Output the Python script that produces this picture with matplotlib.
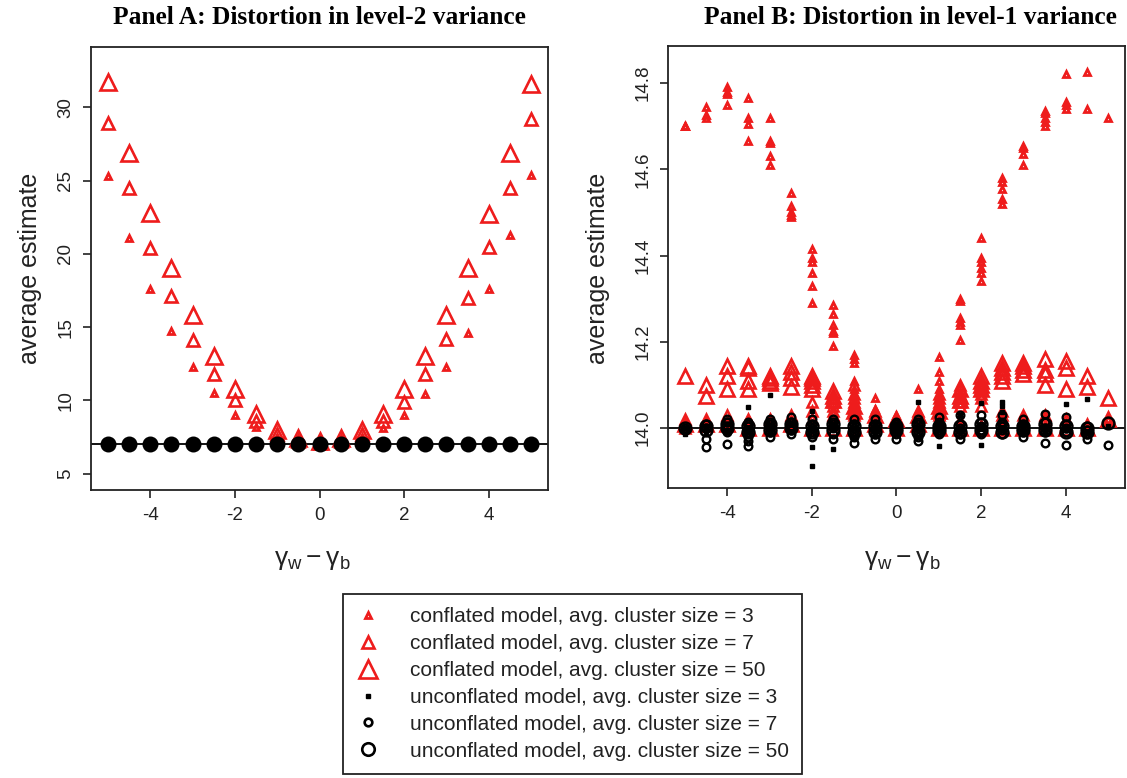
import matplotlib
matplotlib.use("Agg")
import matplotlib.pyplot as plt
from matplotlib.lines import Line2D

# ---- data -------------------------------------------------------------
gap = [-5, -4.5, -4, -3.5, -3, -2.5, -2, -1.5, -1, -0.5, 0,
       0.5, 1, 1.5, 2, 2.5, 3, 3.5, 4, 4.5, 5]

# Panel A: distortion in level-2 variance (one estimate per gap)
a_conf3 = [25.3, 21.1, 17.6, 14.7, 12.3, 10.5, 9.0, 8.2, 7.5, 7.0, 7.0,
           7.0, 7.5, 8.1, 9.0, 10.4, 12.3, 14.6, 17.6, 21.3, 25.4]
a_conf7 = [28.9, 24.5, 20.4, 17.1, 14.1, 11.8, 10.0, 8.6, 7.7, 7.2, 7.1,
           7.2, 7.7, 8.6, 9.9, 11.8, 14.2, 17.0, 20.5, 24.5, 29.2]
a_conf50 = [31.7, 26.9, 22.8, 19.0, 15.8, 13.0, 10.8, 9.1, 8.0, 7.4, 7.2,
            7.4, 8.0, 9.1, 10.8, 13.0, 15.8, 19.0, 22.7, 26.9, 31.6]
a_unconf3 = [7.0] * 21
a_unconf7 = [7.0] * 21
a_unconf50 = [7.0] * 21
a_true = 7.0

# Panel B: distortion in level-1 variance (several conditions per gap)
b_conf3 = [
    [14.70, 14.70, 14.70, 14.01],
    [14.745, 14.725, 14.72, 14.01],
    [14.79, 14.78, 14.775, 14.75, 14.01],
    [14.765, 14.72, 14.705, 14.665, 14.02, 14.00],
    [14.72, 14.665, 14.66, 14.63, 14.61, 14.02, 14.00],
    [14.545, 14.515, 14.50, 14.495, 14.49, 14.02, 14.00],
    [14.415, 14.395, 14.385, 14.36, 14.33, 14.29, 14.01],
    [14.285, 14.265, 14.24, 14.225, 14.22, 14.19, 14.02],
    [14.17, 14.16, 14.15, 14.11, 14.09, 14.08, 14.02],
    [14.07, 14.045, 14.03, 14.00],
    [14.03, 14.02, 14.00],
    [14.09, 14.04, 14.02, 14.00],
    [14.165, 14.13, 14.11, 14.09, 14.07, 14.02],
    [14.30, 14.295, 14.255, 14.245, 14.24, 14.205, 14.02],
    [14.44, 14.395, 14.385, 14.37, 14.36, 14.34, 14.01],
    [14.58, 14.57, 14.555, 14.53, 14.52, 14.01],
    [14.655, 14.65, 14.635, 14.61, 14.01],
    [14.735, 14.73, 14.72, 14.71, 14.70, 14.01],
    [14.82, 14.755, 14.75, 14.74, 14.00],
    [14.825, 14.74, 14.00],
    [14.72, 14.02],
]
b_conf7 = [
    [14.02, 14.00],
    [14.02, 14.005],
    [14.03, 14.01],
    [14.02, 14.00],
    [14.02, 14.01],
    [14.03, 14.01],
    [14.06, 14.04, 14.02],
    [14.07, 14.06, 14.05, 14.04, 14.03],
    [14.10, 14.08, 14.07, 14.06, 14.05, 14.04, 14.03],
    [14.04, 14.02, 14.01],
    [14.02, 14.01, 14.00],
    [14.04, 14.03, 14.02],
    [14.08, 14.07, 14.06, 14.05, 14.04, 14.03],
    [14.10, 14.09, 14.08, 14.07, 14.06, 14.05],
    [14.10, 14.09, 14.08, 14.07, 14.05],
    [14.04, 14.03, 14.02],
    [14.03, 14.02, 14.01],
    [14.03, 14.02],
    [14.02, 14.01],
    [14.01, 14.00],
    [14.02],
]
b_conf50 = [
    [14.12, 14.01],
    [14.10, 14.075, 14.01],
    [14.145, 14.12, 14.09, 14.01],
    [14.145, 14.14, 14.11, 14.09, 14.00],
    [14.12, 14.115, 14.11, 14.105, 14.00],
    [14.145, 14.13, 14.115, 14.095, 14.01],
    [14.12, 14.115, 14.11, 14.10, 14.09, 14.00],
    [14.085, 14.075, 14.065, 14.00],
    [14.05, 14.04, 14.00],
    [14.03, 14.01],
    [14.02, 14.00],
    [14.03, 14.01],
    [14.05, 14.04, 14.00],
    [14.09, 14.075, 14.065, 14.00],
    [14.12, 14.11, 14.10, 14.09, 14.00],
    [14.15, 14.14, 14.13, 14.12, 14.11, 14.00],
    [14.15, 14.145, 14.135, 14.125, 14.00],
    [14.16, 14.135, 14.125, 14.10, 14.00],
    [14.155, 14.14, 14.09, 14.00],
    [14.12, 14.095, 14.00],
    [14.07, 14.02],
]
b_unconf3 = [
    [13.985, 14.00],
    [14.00, 13.99],
    [14.01, 13.99],
    [14.049, 13.99, 14.00],
    [14.076, 14.00, 13.985],
    [14.01, 13.99],
    [14.04, 13.956, 13.912, 14.00],
    [13.952, 14.00, 14.01],
    [13.98, 14.00, 14.015],
    [13.985, 14.00, 14.01],
    [13.99, 14.00, 14.01],
    [14.06, 13.98, 14.00],
    [13.958, 14.00, 14.01],
    [14.03, 13.99, 14.00],
    [14.058, 13.96, 14.00],
    [14.06, 14.05, 14.037, 14.00],
    [13.99, 14.00, 14.01],
    [14.00, 13.99],
    [14.056, 14.00],
    [14.067, 13.99],
    [14.005],
]
b_unconf7 = [
    [14.00, 13.995],
    [13.956, 13.975, 14.00, 14.01],
    [13.962, 13.99, 14.00, 14.015, 14.02],
    [13.958, 13.97, 13.98, 13.99, 14.005, 14.015],
    [13.98, 13.99, 14.00, 14.01, 14.02],
    [13.985, 13.995, 14.005, 14.015, 14.025],
    [13.98, 13.99, 14.00, 14.01, 14.02],
    [13.975, 13.985, 14.00, 14.01, 14.02],
    [13.965, 13.98, 13.99, 14.00, 14.01, 14.02],
    [13.975, 13.985, 14.00, 14.01, 14.02],
    [13.975, 13.985, 13.995, 14.005, 14.015],
    [13.97, 13.98, 13.99, 14.00, 14.01, 14.02],
    [13.985, 13.995, 14.005, 14.015, 14.025],
    [13.975, 13.985, 14.00, 14.01, 14.03],
    [13.985, 13.995, 14.005, 14.015, 14.03],
    [13.985, 13.995, 14.005, 14.015, 14.03],
    [13.98, 13.99, 14.00, 14.01, 14.02],
    [13.965, 13.99, 14.00, 14.015, 14.032],
    [13.96, 13.99, 14.00, 14.01, 14.025],
    [13.975, 13.985, 13.995, 14.005],
    [13.96],
]
b_unconf50 = [
    [14.00], [14.005, 13.995], [14.01, 14.00], [13.99, 14.005],
    [13.995, 14.01], [14.00, 14.01], [13.99, 14.005], [13.995, 14.01],
    [13.99, 14.005], [13.99, 14.005], [13.995, 14.005], [13.99, 14.01],
    [13.995, 14.005], [13.99, 14.005], [13.995, 14.01], [13.99, 14.005],
    [13.995, 14.005], [13.995, 14.01], [13.99, 14.005], [13.99, 14.00],
    [14.012],
]
b_true = 14.0

labels = ["conflated model, avg. cluster size = 3",
          "conflated model, avg. cluster size = 7",
          "conflated model, avg. cluster size = 50",
          "unconflated model, avg. cluster size = 3",
          "unconflated model, avg. cluster size = 7",
          "unconflated model, avg. cluster size = 50"]

RED = "#ee1c1c"
INK = "#222222"
SANS = "Liberation Sans"

plt.rcParams["mathtext.fontset"] = "custom"
plt.rcParams["mathtext.rm"] = SANS
plt.rcParams["mathtext.it"] = SANS + ":italic"


def flatten(groups):
    xs, ys = [], []
    for g, vals in zip(gap, groups):
        for v in vals:
            xs.append(g)
            ys.append(v)
    return xs, ys


def style_axes(ax, yticks, ylim):
    ax.set_xlim(-5.4, 5.4)
    ax.set_ylim(*ylim)
    ax.set_xticks([-4, -2, 0, 2, 4])
    ax.set_xticklabels(["-4", "-2", "0", "2", "4"])
    ax.set_yticks(yticks)
    ax.set_yticklabels([f"{t:g}" if ylim[1] > 20 else f"{t:.1f}" for t in yticks])
    ax.tick_params(direction="out", length=6, width=1.2, color=INK,
                   labelsize=13.5, labelcolor=INK, pad=6)
    ax.tick_params(axis="y", labelrotation=90)
    for lbl in ax.get_yticklabels():
        lbl.set_va("center")
        lbl.set_family(SANS)
    for lbl in ax.get_xticklabels():
        lbl.set_family(SANS)
    for s in ax.spines.values():
        s.set_linewidth(1.3)
        s.set_color(INK)


fig = plt.figure(figsize=(11.27, 7.78), dpi=100)
axA = fig.add_axes([0.0807, 0.3702, 0.4056, 0.5694])
axB = fig.add_axes([0.5927, 0.3728, 0.4055, 0.5681])

# ---- Panel A ----------------------------------------------------------
axA.axhline(a_true, color="black", lw=1.3, zorder=1)
axA.plot(gap, a_conf3, ls="none", marker="^", ms=5, mfc="none", mec=RED, mew=2.0)
axA.plot(gap, a_conf7, ls="none", marker="^", ms=8, mfc="none", mec=RED, mew=1.9)
axA.plot(gap, a_conf50, ls="none", marker="^", ms=11.5, mfc="none", mec=RED, mew=1.9)
axA.plot(gap, a_unconf50, ls="none", marker="o", ms=10, mfc="black", mec="black", mew=1.5)
axA.plot(gap, a_unconf7, ls="none", marker="o", ms=6, mfc="none", mec="black", mew=1.8)
axA.plot(gap, a_unconf3, ls="none", marker="s", ms=3, mfc="black", mec="black")
style_axes(axA, [5, 10, 15, 20, 25, 30], (3.88, 34.12))

# ---- Panel B ----------------------------------------------------------
axB.axhline(b_true, color="black", lw=1.3, zorder=1)
x, y = flatten(b_conf3)
axB.plot(x, y, ls="none", marker="^", ms=5, mfc="none", mec=RED, mew=2.0)
x, y = flatten(b_conf7)
axB.plot(x, y, ls="none", marker="^", ms=7, mfc="none", mec=RED, mew=1.8)
x, y = flatten(b_conf50)
axB.plot(x, y, ls="none", marker="^", ms=9.5, mfc="none", mec=RED, mew=1.9)
x, y = flatten(b_unconf3)
axB.plot(x, y, ls="none", marker="s", ms=3, mfc="black", mec="black")
x, y = flatten(b_unconf7)
axB.plot(x, y, ls="none", marker="o", ms=5.5, mfc="none", mec="black", mew=1.7)
x, y = flatten(b_unconf50)
axB.plot(x, y, ls="none", marker="o", ms=8.5, mfc="none", mec="black", mew=1.8)
style_axes(axB, [14.0, 14.2, 14.4, 14.6, 14.8], (13.861, 14.886))

# ---- titles and labels ------------------------------------------------
fig.text(0.283, 0.978, "Panel A: Distortion in level-2 variance", ha="center",
         va="center", fontsize=18.3, fontweight="bold", family="Liberation Serif")
fig.text(0.808, 0.978, "Panel B: Distortion in level-1 variance", ha="center",
         va="center", fontsize=18.3, fontweight="bold", family="Liberation Serif")
for xpos in (0.027, 0.531):
    fig.text(xpos, 0.655, "average estimate", rotation=90, ha="center",
             va="center", fontsize=18, color=INK, family=SANS)
xlab = r"$\mathrm{\gamma_w - \gamma_b}$"
fig.text(0.277, 0.282, xlab, ha="center", va="center", fontsize=19, color=INK)
fig.text(0.801, 0.282, xlab, ha="center", va="center", fontsize=19, color=INK)

# ---- legend -----------------------------------------------------------
handles = [
    Line2D([], [], ls="none", marker="^", ms=5, mfc="none", mec=RED, mew=2.0),
    Line2D([], [], ls="none", marker="^", ms=8, mfc="none", mec=RED, mew=1.9),
    Line2D([], [], ls="none", marker="^", ms=12.5, mfc="none", mec=RED, mew=1.9),
    Line2D([], [], ls="none", marker="s", ms=3.5, mfc="black", mec="black"),
    Line2D([], [], ls="none", marker="o", ms=5.5, mfc="none", mec="black", mew=1.9),
    Line2D([], [], ls="none", marker="o", ms=9, mfc="none", mec="black", mew=1.9),
]
leg = fig.legend(handles, labels, loc="center", bbox_to_anchor=(0.508, 0.121),
                 fancybox=False, edgecolor=INK, framealpha=1,
                 prop={"family": SANS, "size": 15}, labelspacing=0.38,
                 handlelength=1.1, handletextpad=1.45, borderpad=0.65)
leg.get_frame().set_linewidth(1.3)
for t in leg.get_texts():
    t.set_color(INK)

fig.savefig("out.png", dpi=100)
